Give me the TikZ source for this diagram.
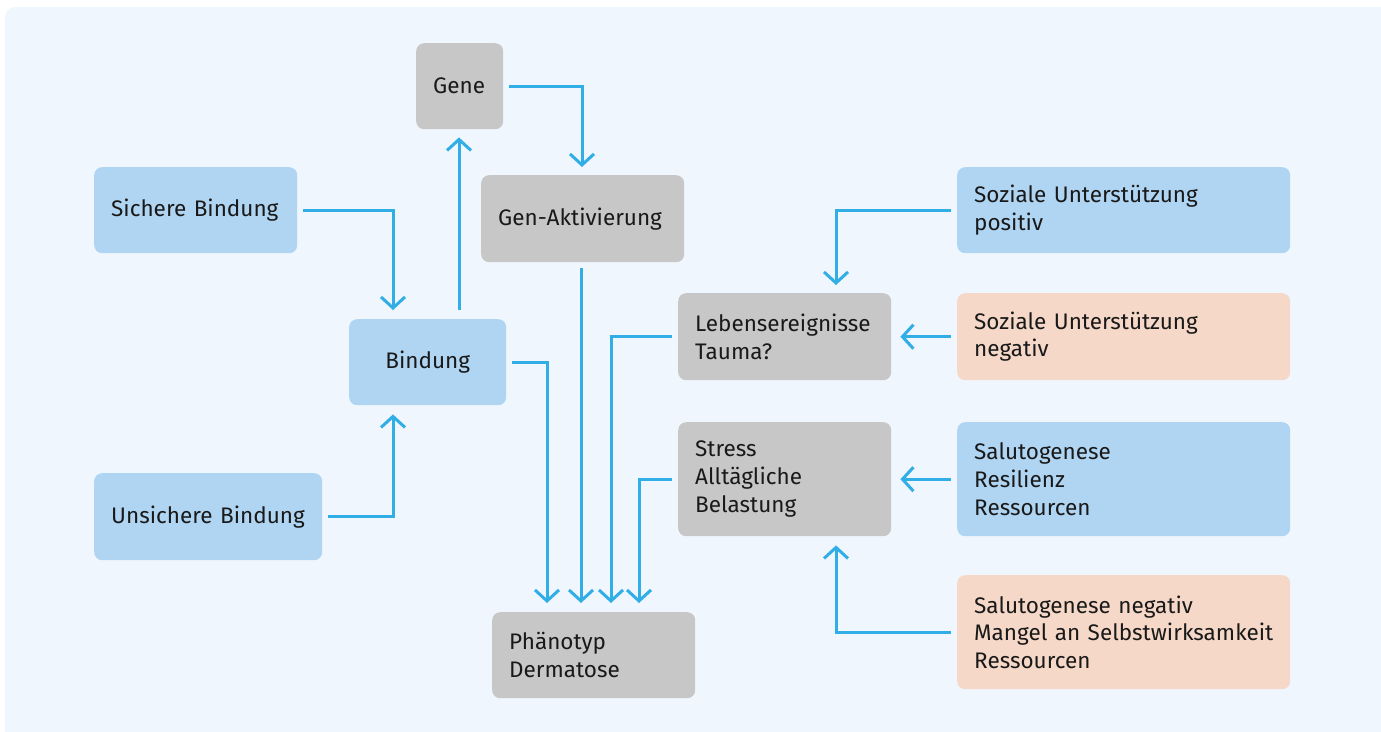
\documentclass[tikz,border=0pt]{standalone}
\usepackage{fontspec}
\setmainfont{Fira Sans}
\usetikzlibrary{arrows.meta,calc}
\definecolor{bgc}{RGB}{239,246,253}
\definecolor{bluebox}{RGB}{176,213,242}
\definecolor{graybox}{RGB}{198,199,198}
\definecolor{peachbox}{RGB}{245,216,200}
\definecolor{arrc}{RGB}{50,174,230}
\definecolor{txt}{RGB}{25,25,25}
\tikzset{
  box/.style={anchor=north west, rounded corners=8pt, inner xsep=17pt, inner ysep=0pt,
    font=\fontsize{22.5}{27.8}\selectfont, text=txt, align=left},
  bb/.style={box, fill=bluebox},
  gb/.style={box, fill=graybox},
  pb/.style={box, fill=peachbox},
  arr/.style={draw=arrc, line width=3pt,
    -{Straight Barb[length=11pt,width=24pt,line width=3pt]}}
}
\begin{document}
\begin{tikzpicture}[x=1pt,y=-1pt]
\useasboundingbox (0,0) rectangle (1381,731);
\fill[bgc, rounded corners=10pt] (5,7) rectangle (1400,750);
% boxes: width w, height h -> text width = w-34
\node[gb, minimum height=86pt, text width=53pt] (gene) at (416,43) {Gene};
\node[gb, minimum height=87pt, text width=169pt] (genakt) at (481,175) {Gen-Aktivierung};
\node[bb, minimum height=86pt, text width=169pt] (sich) at (94,167) {Sichere Bindung};
\node[bb, minimum height=86pt, text width=123pt, align=center] (bind) at (349,319) {Bindung};
\node[bb, minimum height=87pt, text width=194pt] (uns) at (94,473) {Unsichere Bindung};
\node[gb, minimum height=87pt, text width=179pt] (leb) at (678,293) {\mbox{Lebensereignisse}\\Tauma?};
\node[gb, minimum height=114pt, text width=179pt] (stress) at (678,422) {Stress\\Allt\"agliche\\Belastung};
\node[gb, minimum height=86pt, text width=169pt] (phan) at (492,612) {Ph\"anotyp\\Dermatose};
\node[bb, minimum height=86pt, text width=299pt] (sozpos) at (957,167) {Soziale Unterst\"utzung\\positiv};
\node[pb, minimum height=87pt, text width=299pt] (sozneg) at (957,293) {Soziale Unterst\"utzung\\negativ};
\node[bb, minimum height=114pt, text width=299pt] (sal) at (957,422) {Salutogenese\\Resilienz\\Ressourcen};
\node[pb, minimum height=114pt, text width=299pt] (salneg) at (957,575) {Salutogenese negativ\\\mbox{Mangel an Selbstwirksamkeit}\\Ressourcen};
% connectors
\draw[arr] ([xshift=6pt]sich.east) -| ([xshift=44pt,yshift=9pt]bind.north west);
\draw[arr] ([xshift=6pt]uns.east) -| ([xshift=44pt,yshift=-9pt]bind.south west);
\draw[arr] ([xshift=110pt,yshift=9pt]bind.north west) -- ([xshift=43pt,yshift=-8pt]gene.south west);
\draw[arr] ([xshift=6pt]gene.east) -| ([xshift=101pt,yshift=8pt]genakt.north west);
\draw[arr] ([xshift=6pt]bind.east) -| ([xshift=55pt,yshift=9pt]phan.north west);
\draw[arr] ([xshift=100pt,yshift=-6pt]genakt.south west) -- ([xshift=89pt,yshift=9pt]phan.north west);
\draw[arr] ([xshift=-6pt]leb.west) -| ([xshift=119pt,yshift=9pt]phan.north west);
\draw[arr] ([xshift=-6pt]stress.west) -| ([xshift=147pt,yshift=9pt]phan.north west);
\draw[arr] ([xshift=-6pt]sozpos.west) -| ([xshift=158pt,yshift=8pt]leb.north west);
\draw[arr] ([xshift=-6pt]sozneg.west) -- ([xshift=9pt]leb.east);
\draw[arr] ([xshift=-6pt]sal.west) -- ([xshift=9pt]stress.east);
\draw[arr] ([xshift=-6pt]salneg.west) -| ([xshift=158pt,yshift=-9pt]stress.south west);
\end{tikzpicture}
\end{document}
